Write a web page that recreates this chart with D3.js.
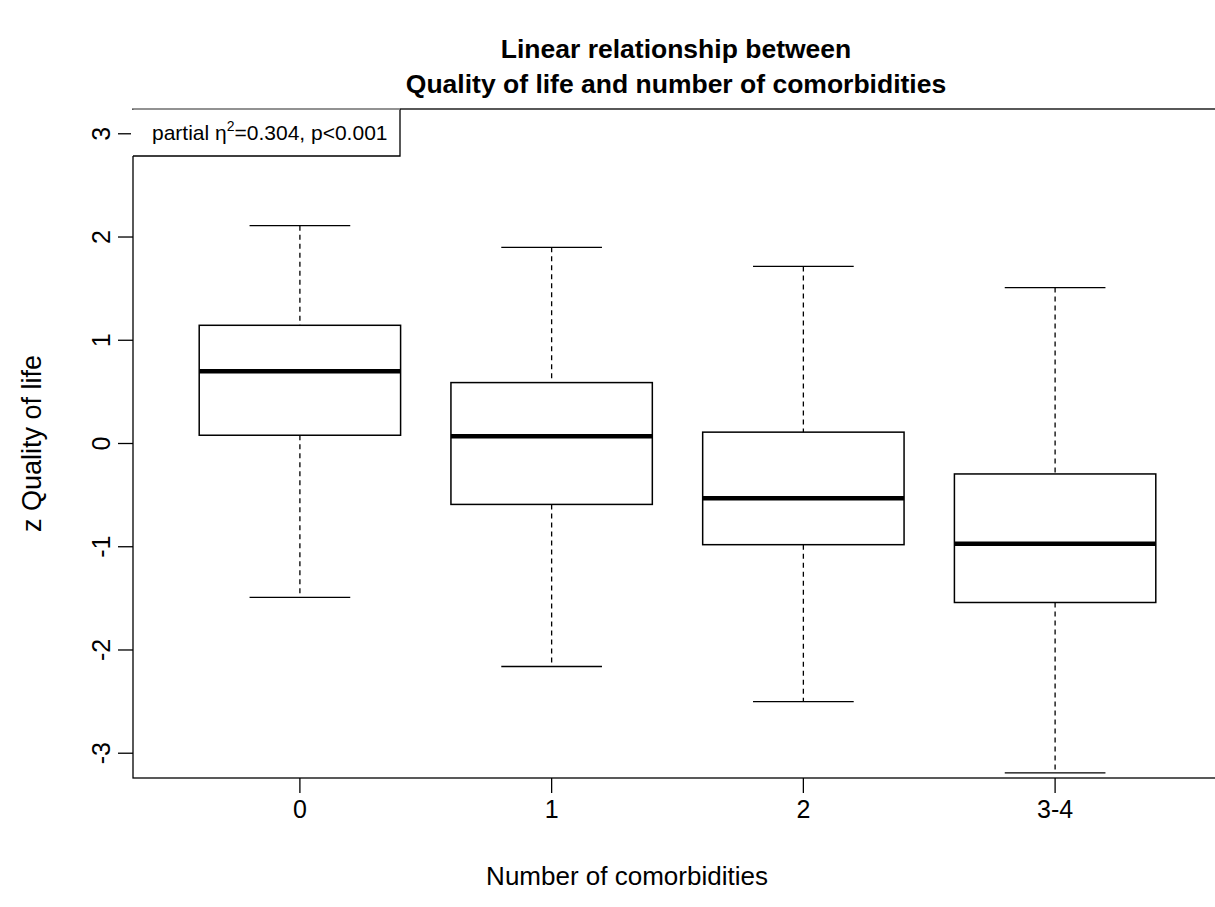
<!DOCTYPE html>
<html>
<head>
<meta charset="utf-8">
<script src="https://cdn.jsdelivr.net/npm/d3@7"></script>
<style>
  body { margin: 0; background: #fff; }
  svg { display: block; font-family: "Liberation Sans", Arial, sans-serif; }
</style>
</head>
<body>
<svg id="chart" width="1215" height="907"></svg>
<script>
// ----- data -----
const groups   = ['0', '1', '2', '3-4'];
const lowWhisk = [-1.49, -2.16, -2.50, -3.19];
const q1       = [0.08, -0.59, -0.98, -1.54];
const medians  = [0.70, 0.07, -0.53, -0.97];
const q3       = [1.145, 0.59, 0.11, -0.295];
const hiWhisk  = [2.11, 1.90, 1.715, 1.51];
const yTicks   = [-3, -2, -1, 0, 1, 2, 3];

const boxes = groups.map((g, i) => ({
  g, pos: i + 1, lo: lowWhisk[i], q1: q1[i], med: medians[i], q3: q3[i], hi: hiWhisk[i]
}));

// ----- layout -----
const svg = d3.select('#chart');
const plotL = 133, plotR = 1222, plotT = 109, plotB = 778;

const x = d3.scaleLinear().domain([0.337, 4.663]).range([plotL, plotR]);
const y = d3.scaleLinear().domain([-3.24, 3.24]).range([plotB, plotT]);

const boxW = x(1.8) - x(1);   // box is 0.8 units wide
const capW = x(1.4) - x(1);   // staple is half of the box

// frame
svg.append('rect')
  .attr('x', plotL).attr('y', plotT)
  .attr('width', plotR - plotL).attr('height', plotB - plotT)
  .attr('fill', 'none').attr('stroke', '#000').attr('stroke-width', 1.3);

// y axis (R style, rotated labels)
const yAxis = svg.append('g').attr('transform', `translate(${plotL},0)`);
yAxis.selectAll('line').data(yTicks).enter().append('line')
  .attr('x1', -15).attr('x2', 0)
  .attr('y1', d => y(d)).attr('y2', d => y(d))
  .attr('stroke', '#000').attr('stroke-width', 1.3);
yAxis.selectAll('text').data(yTicks).enter().append('text')
  .attr('transform', d => `translate(-23,${y(d)}) rotate(-90)`)
  .attr('text-anchor', 'middle')
  .attr('font-size', 25)
  .text(d => d);

// x axis
const xAxis = svg.append('g').attr('transform', `translate(0,${plotB})`);
xAxis.selectAll('line').data(boxes).enter().append('line')
  .attr('x1', d => x(d.pos)).attr('x2', d => x(d.pos))
  .attr('y1', 0).attr('y2', 15)
  .attr('stroke', '#000').attr('stroke-width', 1.3);
xAxis.selectAll('text').data(boxes).enter().append('text')
  .attr('x', d => x(d.pos)).attr('y', 40)
  .attr('text-anchor', 'middle')
  .attr('font-size', 25)
  .text(d => d.g);

// ----- boxes -----
const bx = svg.append('g').selectAll('g').data(boxes).enter().append('g');

// whiskers (dashed)
bx.append('line')
  .attr('x1', d => x(d.pos)).attr('x2', d => x(d.pos))
  .attr('y1', d => y(d.hi)).attr('y2', d => y(d.q3))
  .attr('stroke', '#000').attr('stroke-width', 1.3).attr('stroke-dasharray', '5,4');
bx.append('line')
  .attr('x1', d => x(d.pos)).attr('x2', d => x(d.pos))
  .attr('y1', d => y(d.q1)).attr('y2', d => y(d.lo))
  .attr('stroke', '#000').attr('stroke-width', 1.3).attr('stroke-dasharray', '5,4');

// staples
['hi', 'lo'].forEach(k => {
  bx.append('line')
    .attr('x1', d => x(d.pos) - capW / 2).attr('x2', d => x(d.pos) + capW / 2)
    .attr('y1', d => y(d[k])).attr('y2', d => y(d[k]))
    .attr('stroke', '#000').attr('stroke-width', 1.3);
});

// box
bx.append('rect')
  .attr('x', d => x(d.pos) - boxW / 2)
  .attr('y', d => y(d.q3))
  .attr('width', boxW)
  .attr('height', d => y(d.q1) - y(d.q3))
  .attr('fill', 'none').attr('stroke', '#000').attr('stroke-width', 1.5);

// median
bx.append('line')
  .attr('x1', d => x(d.pos) - boxW / 2).attr('x2', d => x(d.pos) + boxW / 2)
  .attr('y1', d => y(d.med)).attr('y2', d => y(d.med))
  .attr('stroke', '#000').attr('stroke-width', 4.5);

// ----- legend box (top-left, white, covers the frame) -----
const lg = svg.append('g');
lg.append('rect')
  .attr('x', plotL - 2).attr('y', plotT + 1)
  .attr('width', 400 - plotL + 2).attr('height', 156 - plotT - 1)
  .attr('fill', '#fff');
lg.append('path')
  .attr('d', `M${plotL},156 H400 V${plotT}`)
  .attr('fill', 'none').attr('stroke', '#000').attr('stroke-width', 1.3);
lg.append('line')
  .attr('x1', plotL).attr('x2', 400).attr('y1', plotT).attr('y2', plotT)
  .attr('stroke', '#ccc').attr('stroke-width', 1);
const lt = lg.append('text')
  .attr('x', 152).attr('y', 140)
  .attr('font-size', 21);
lt.append('tspan').text('partial \u03b7');
lt.append('tspan').attr('dy', -9).attr('font-size', 14).text('2');
lt.append('tspan').attr('dy', 9).text('=0.304, p<0.001');

// ----- titles -----
svg.append('text')
  .attr('x', 676).attr('y', 58)
  .attr('text-anchor', 'middle')
  .attr('font-size', 26.5).attr('font-weight', 'bold')
  .text('Linear relationship between');
svg.append('text')
  .attr('x', 676).attr('y', 93)
  .attr('text-anchor', 'middle')
  .attr('font-size', 26.5).attr('font-weight', 'bold')
  .text('Quality of life and number of comorbidities');

svg.append('text')
  .attr('x', 627).attr('y', 885)
  .attr('text-anchor', 'middle')
  .attr('font-size', 26)
  .text('Number of comorbidities');

svg.append('text')
  .attr('transform', `translate(41,${y(0)}) rotate(-90)`)
  .attr('text-anchor', 'middle')
  .attr('font-size', 27)
  .text('z Quality of life');
</script>
</body>
</html>
